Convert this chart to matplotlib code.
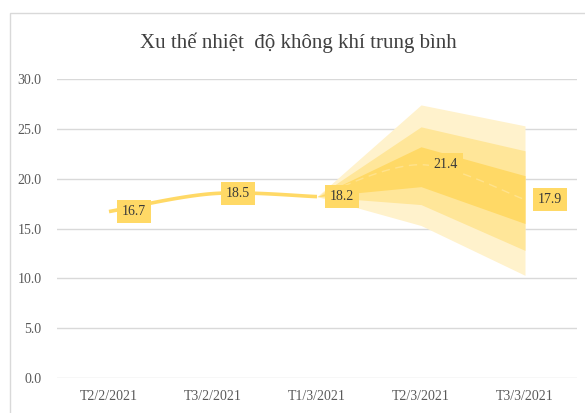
import matplotlib
matplotlib.use("Agg")
import matplotlib.pyplot as plt
import numpy as np
from matplotlib.patches import Rectangle

categories = ["T2/2/2021", "T3/2/2021", "T1/3/2021", "T2/3/2021", "T3/3/2021"]
observed = [16.7, 18.5, 18.2]
forecast = [18.2, 21.4, 17.9]
# fan bands at T1/3, T2/3, T3/3 (lower, upper)
outer_lo = [18.2, 15.3, 10.3]
outer_hi = [18.2, 27.4, 25.3]
mid_lo = [18.2, 17.4, 12.8]
mid_hi = [18.2, 25.2, 22.8]
inner_lo = [18.2, 19.2, 15.5]
inner_hi = [18.2, 23.2, 20.3]
labels = [16.7, 18.5, 18.2, 21.4, 17.9]
yticks = [0, 5, 10, 15, 20, 25, 30]

W, H = 585, 413
fig = plt.figure(figsize=(W / 100, H / 100), dpi=100)
fig.patches.append(Rectangle((10 / W, -0.1), 1.2, (H - 13) / H + 0.1, transform=fig.transFigure,
                             fill=False, edgecolor="#D9D9D9", lw=1.0))

ax = fig.add_axes([57 / W, 35 / H, 520 / W, 299 / H])
ax.set_xlim(-0.5, 4.5)
ax.set_ylim(0, 30)
for s in ax.spines.values():
    s.set_visible(False)
ax.set_yticks(yticks)
ax.set_yticklabels([f"{v:.1f}" for v in yticks])
ax.set_xticks(range(len(categories)))
ax.set_xticklabels(categories)
ax.tick_params(length=0, labelsize=10, colors="#595959")
ax.tick_params(axis="y", pad=11)
ax.tick_params(axis="x", pad=9)
for t in ax.get_xticklabels() + ax.get_yticklabels():
    t.set_family("Liberation Serif")
ax.grid(axis="y", color="#D9D9D9", lw=1.0)
ax.set_axisbelow(True)


def smooth(xs, ys, n=40):
    xs = np.asarray(xs, float)
    ys = np.asarray(ys, float)
    P = np.column_stack([xs, ys])
    out = []
    for i in range(len(P) - 1):
        p0 = P[i - 1] if i > 0 else P[i]
        p1 = P[i]
        p2 = P[i + 1]
        p3 = P[i + 2] if i + 2 < len(P) else P[i + 1]
        c1 = p1 + (p2 - p0) / 6
        c2 = p2 - (p3 - p1) / 6
        t = np.linspace(0, 1, n)[:, None]
        seg = (1 - t) ** 3 * p1 + 3 * (1 - t) ** 2 * t * c1 + 3 * (1 - t) * t ** 2 * c2 + t ** 3 * p2
        out.append(seg if i == 0 else seg[1:])
    pts = np.vstack(out)
    return pts[:, 0], pts[:, 1]


fx = [2, 3, 4]
ax.fill_between(fx, outer_lo, outer_hi, color="#FFF2CC", lw=0, zorder=2)
ax.fill_between(fx, mid_lo, mid_hi, color="#FFE699", lw=0, zorder=3)
ax.fill_between(fx, inner_lo, inner_hi, color="#FFD966", lw=0, zorder=4)

sx, sy = smooth(fx, forecast)
ax.plot(sx, sy, color="white", lw=1.0, ls=(0, (6, 4)), alpha=0.25, zorder=5)

ox, oy = smooth(range(len(observed)), observed)
ax.plot(ox, oy, color="#FFD966", lw=2.6, solid_capstyle="butt", zorder=6)

px = np.arange(len(labels))
for x, v in zip(px, labels):
    ax.annotate(f"{v:.1f}", (x, v), xytext=(25, 0), textcoords="offset pixels",
                ha="center", va="center", fontsize=10, family="Liberation Serif", color="#3A3A3A",
                bbox=dict(boxstyle="square,pad=0.35", fc="#FFD966", ec="none"), zorder=8)

fig.text(298 / W, 1 - 43 / H, "Xu thế nhiệt  độ không khí trung bình", ha="center", va="center",
         fontsize=15, family="Liberation Serif", color="#404040")

fig.savefig("out.png", dpi=100)
